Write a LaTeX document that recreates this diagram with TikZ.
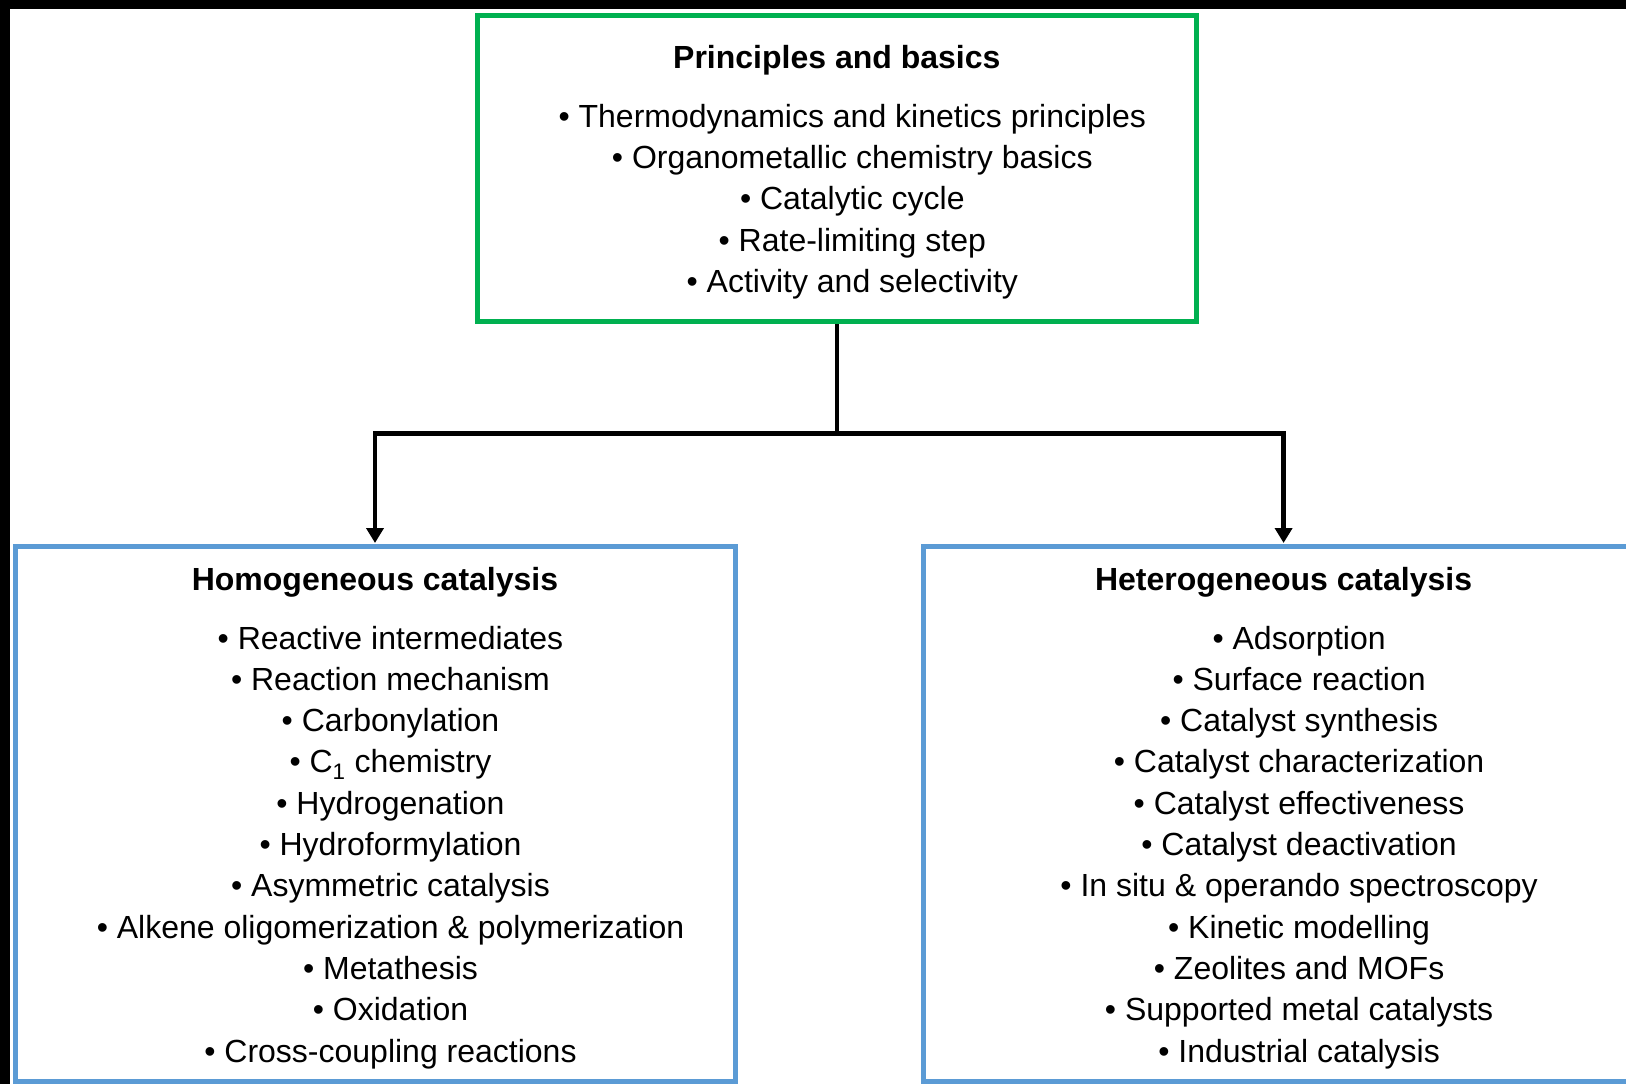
\documentclass[tikz,border=0pt]{standalone}
\usepackage{fontspec}
\setmainfont{Liberation Sans}
\usetikzlibrary{arrows.meta}
\definecolor{boxgreen}{HTML}{00B050}
\definecolor{boxblue}{HTML}{5B9BD5}
% bullet item, shifted so the list sits slightly right of the heading
\newcommand\bitem[1]{\hspace*{31pt}\textbullet\ #1}
\begin{document}
\begin{tikzpicture}[x=1pt,y=-1pt,
  panel/.style={draw, line width=5pt, fill=white, inner sep=0pt},
  toppanel/.style={panel, draw=boxgreen, minimum width=718.5pt, minimum height=306.5pt},
  subpanel/.style={panel, draw=boxblue, minimum width=720pt, minimum height=535pt},
  panetext/.style={align=center, inner sep=0pt, font=\fontsize{32}{41.3}\selectfont},
  link/.style={line width=4.5pt, black},
  arrowlink/.style={link, -{Triangle[length=15pt,width=17pt]}, shorten >=1pt}]
% canvas and dark edge bands
\useasboundingbox (0,0) rectangle (1626,1084);
\fill[white] (0,0) rectangle (1626,1084);
\fill[black] (0,0) rectangle (1626,9);
\fill[black] (0,0) rectangle (10,1084);

% frames
\node[toppanel] (basics) at (836.8,168.25) {};
\node[subpanel] (homo) at (375,814) {};
\node[subpanel] (hetero) at (1283.6,814) {};

% contents
\node[panetext] (basicstext) at ([yshift=-3.8pt]basics.center) {%
  \textbf{Principles and basics}\\[17.7pt]
  \bitem{Thermodynamics and kinetics principles}\\
  \bitem{Organometallic chemistry basics}\\
  \bitem{Catalytic cycle}\\
  \bitem{Rate-limiting step}\\
  \bitem{Activity and selectivity}};

\node[panetext] (homotext) at ([yshift=-3.8pt]homo.center) {%
  \textbf{Homogeneous catalysis}\\[17.7pt]
  \bitem{Reactive intermediates}\\
  \bitem{Reaction mechanism}\\
  \bitem{Carbonylation}\\
  \bitem{C\textsubscript{1} chemistry}\\
  \bitem{Hydrogenation}\\
  \bitem{Hydroformylation}\\
  \bitem{Asymmetric catalysis}\\
  \bitem{Alkene oligomerization \& polymerization}\\
  \bitem{Metathesis}\\
  \bitem{Oxidation}\\
  \bitem{Cross-coupling reactions}};

\node[panetext] (heterotext) at ([yshift=-3.8pt]hetero.center) {%
  \textbf{Heterogeneous catalysis}\\[17.7pt]
  \bitem{Adsorption}\\
  \bitem{Surface reaction}\\
  \bitem{Catalyst synthesis}\\
  \bitem{Catalyst characterization}\\
  \bitem{Catalyst effectiveness}\\
  \bitem{Catalyst deactivation}\\
  \bitem{In situ \& operando spectroscopy}\\
  \bitem{Kinetic modelling}\\
  \bitem{Zeolites and MOFs}\\
  \bitem{Supported metal catalysts}\\
  \bitem{Industrial catalysis}};

% branching connector
\coordinate (split) at (836.8,433.5);
\draw[link] (basics.south) -- (split);
\draw[arrowlink] (split) -| (homo.north);
\draw[arrowlink] (split) -| (hetero.north);
\end{tikzpicture}
\end{document}
